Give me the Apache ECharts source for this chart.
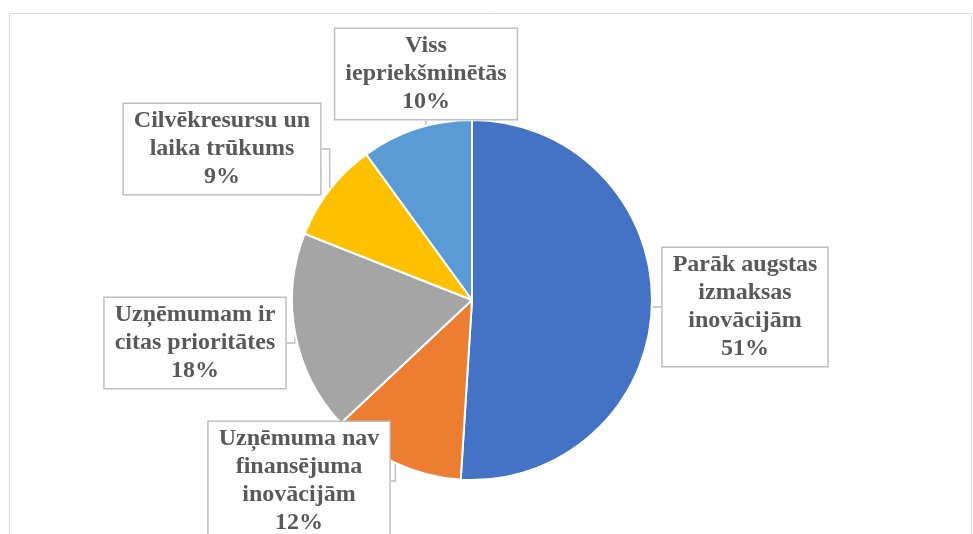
<!DOCTYPE html>
<html>
<head>
<meta charset="utf-8">
<script src="https://cdn.jsdelivr.net/npm/echarts@6/dist/echarts.min.js"></script>
<style>
html,body{margin:0;padding:0;background:#fff;}
#chart{width:973px;height:534px;}
</style>
</head>
<body>
<div id="chart"></div>
<script>
// Data
var categories = [
  'Parāk augstas\nizmaksas\ninovācijām',
  'Uzņēmuma nav\nfinansējuma\ninovācijām',
  'Uzņēmumam ir\ncitas prioritātes',
  'Cilvēkresursu un\nlaika trūkums',
  'Viss\niepriekšminētās'
];
var values = [51, 12, 18, 9, 10];
var colors = ['#4472C4', '#ED7D31', '#A5A5A5', '#FFC000', '#5B9BD5'];

// Label box centre positions (layout only)
var labelPos = [
  [745, 307],
  [299, 481],
  [195, 343],
  [222, 149],
  [426, 74]
];

var chart = echarts.init(document.getElementById('chart'));
var option = {
  backgroundColor: '#ffffff',
  animation: false,
  graphic: [{
    type: 'rect',
    shape: { x: 9.5, y: 13.5, width: 962, height: 540 },
    style: { fill: 'none', stroke: '#d9d9d9', lineWidth: 1 },
    z: -1
  }],
  series: [{
    type: 'pie',
    center: [472, 300],
    radius: 180,
    startAngle: 90,
    clockwise: true,
    data: categories.map(function (c, i) {
      return { name: c, value: values[i], itemStyle: { color: colors[i] } };
    }),
    itemStyle: { borderColor: '#ffffff', borderWidth: 2 },
    label: {
      show: true,
      position: 'outside',
      formatter: '{b}\n{c}%',
      fontFamily: '"Liberation Serif", "Times New Roman", serif',
      fontWeight: 'bold',
      fontSize: 24,
      lineHeight: 28,
      color: '#595959',
      align: 'center',
      backgroundColor: '#ffffff',
      borderColor: '#bfbfbf',
      borderWidth: 1.5,
      padding: [3, 10]
    },
    labelLine: {
      show: true,
      length: 8,
      length2: 8,
      lineStyle: { color: '#bfbfbf', width: 1.5 }
    },
    labelLayout: function (params) {
      var p = labelPos[params.dataIndex];
      return { x: p[0], y: p[1], align: 'center', verticalAlign: 'middle' };
    }
  }]
};
chart.setOption(option);
</script>
</body>
</html>
